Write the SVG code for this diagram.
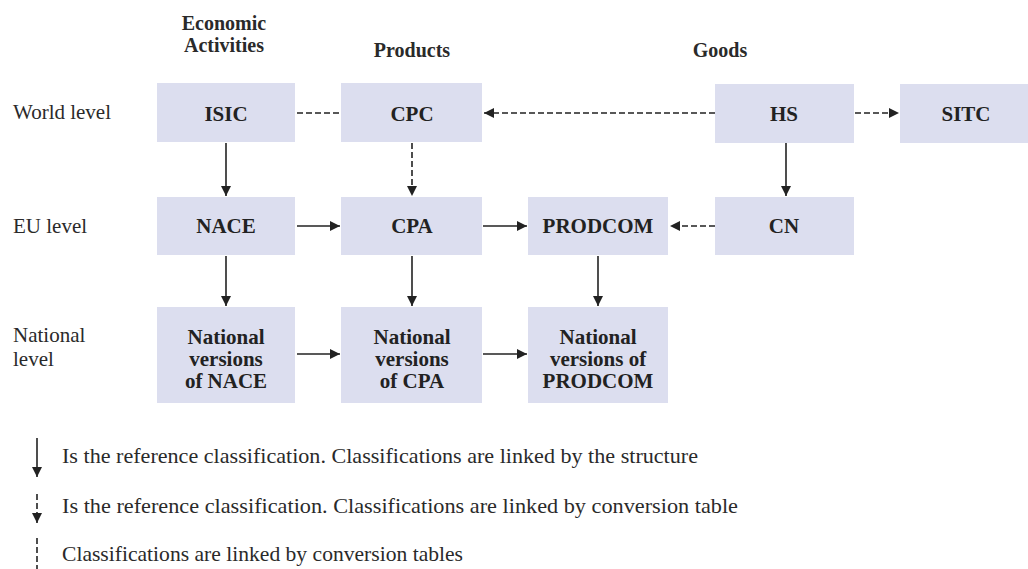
<svg xmlns="http://www.w3.org/2000/svg" width="1028" height="569" viewBox="0 0 1028 569">
<style>
.box{fill:#dcdeef;}
.bt{font-family:"Liberation Serif","DejaVu Serif",serif;font-weight:bold;font-size:21px;fill:#222;text-anchor:middle;}
.hd{font-family:"Liberation Serif","DejaVu Serif",serif;font-weight:bold;font-size:20px;fill:#2a2a2a;text-anchor:middle;}
.lb{font-family:"Liberation Serif","DejaVu Serif",serif;font-size:21px;fill:#2a2a2a;}
.lg{font-family:"Liberation Serif","DejaVu Serif",serif;font-size:21px;fill:#2a2a2a;}
.ln{stroke:#222;stroke-width:1.6;fill:none;}
.ds{stroke:#222;stroke-width:1.6;fill:none;stroke-dasharray:6 3;}
</style>
<defs>
<marker id="ah" markerUnits="userSpaceOnUse" markerWidth="11" markerHeight="10" refX="10" refY="5" orient="auto">
<path d="M0,0 L10,5 L0,10 z" fill="#222"/>
</marker>
</defs>
<rect width="1028" height="569" fill="#ffffff"/>

<g id="headers">
<text class="hd" x="224" y="30">Economic</text>
<text class="hd" x="224" y="52">Activities</text>
<text class="hd" x="412" y="57">Products</text>
<text class="hd" x="720" y="57">Goods</text>
</g>
<g id="rowlabels">
<text class="lb" x="13" y="119">World level</text>
<text class="lb" x="13" y="233">EU level</text>
<text class="lb" x="13" y="342">National</text>
<text class="lb" x="13" y="366">level</text>
</g>

<g id="connectors">
<line class="ds" x1="297" y1="113" x2="340" y2="113"/>
<line class="ds" x1="715" y1="113" x2="484" y2="113" marker-end="url(#ah)"/>
<line class="ds" x1="855" y1="113" x2="899" y2="113" marker-end="url(#ah)"/>
<line class="ln" x1="226" y1="143" x2="226" y2="196" marker-end="url(#ah)"/>
<line class="ds" x1="412" y1="143" x2="412" y2="196" marker-end="url(#ah)"/>
<line class="ln" x1="786" y1="143" x2="786" y2="196" marker-end="url(#ah)"/>
<line class="ln" x1="297" y1="226" x2="340" y2="226" marker-end="url(#ah)"/>
<line class="ln" x1="483" y1="226" x2="527" y2="226" marker-end="url(#ah)"/>
<line class="ds" x1="715" y1="226" x2="670" y2="226" marker-end="url(#ah)"/>
<line class="ln" x1="226" y1="256" x2="226" y2="306" marker-end="url(#ah)"/>
<line class="ln" x1="412" y1="256" x2="412" y2="306" marker-end="url(#ah)"/>
<line class="ln" x1="598" y1="256" x2="598" y2="306" marker-end="url(#ah)"/>
<line class="ln" x1="297" y1="354" x2="340" y2="354" marker-end="url(#ah)"/>
<line class="ln" x1="483" y1="354" x2="527" y2="354" marker-end="url(#ah)"/>
</g>

<g id="ISIC"><rect class="box" x="157" y="83" width="138" height="59"/><text class="bt" x="226" y="121">ISIC</text></g>
<g id="CPC"><rect class="box" x="341" y="83" width="141" height="59"/><text class="bt" x="412" y="121">CPC</text></g>
<g id="HS"><rect class="box" x="715" y="84" width="139" height="59"/><text class="bt" x="784" y="121">HS</text></g>
<g id="SITC"><rect class="box" x="900" y="84" width="128" height="59"/><text class="bt" x="966" y="121">SITC</text></g>
<g id="NACE"><rect class="box" x="157" y="197" width="138" height="58"/><text class="bt" x="226" y="233">NACE</text></g>
<g id="CPA"><rect class="box" x="341" y="197" width="141" height="58"/><text class="bt" x="412" y="233">CPA</text></g>
<g id="PRODCOM"><rect class="box" x="528" y="197" width="140" height="58"/><text class="bt" x="598" y="233">PRODCOM</text></g>
<g id="CN"><rect class="box" x="715" y="197" width="139" height="58"/><text class="bt" x="784" y="233">CN</text></g>
<g id="NatNACE"><rect class="box" x="157" y="307" width="138" height="96"/>
<text class="bt" x="226" y="344">National</text><text class="bt" x="226" y="366">versions</text><text class="bt" x="226" y="388">of NACE</text></g>
<g id="NatCPA"><rect class="box" x="341" y="307" width="141" height="96"/>
<text class="bt" x="412" y="344">National</text><text class="bt" x="412" y="366">versions</text><text class="bt" x="412" y="388">of CPA</text></g>
<g id="NatPRODCOM"><rect class="box" x="528" y="307" width="140" height="96"/>
<text class="bt" x="598" y="344">National</text><text class="bt" x="598" y="366">versions of</text><text class="bt" x="598" y="388">PRODCOM</text></g>

<g id="legend">
<line class="ln" x1="37" y1="438" x2="37" y2="477" marker-end="url(#ah)"/>
<text class="lg" x="62" y="463" textLength="636" lengthAdjust="spacingAndGlyphs">Is the reference classification. Classifications are linked by the structure</text>
<line class="ds" x1="37" y1="494" x2="37" y2="523" marker-end="url(#ah)"/>
<text class="lg" x="62" y="513" textLength="676" lengthAdjust="spacingAndGlyphs">Is the reference classification. Classifications are linked by conversion table</text>
<line class="ds" x1="37" y1="538" x2="37" y2="569"/>
<text class="lg" x="62" y="561" textLength="401" lengthAdjust="spacingAndGlyphs">Classifications are linked by conversion tables</text>
</g>
</svg>
